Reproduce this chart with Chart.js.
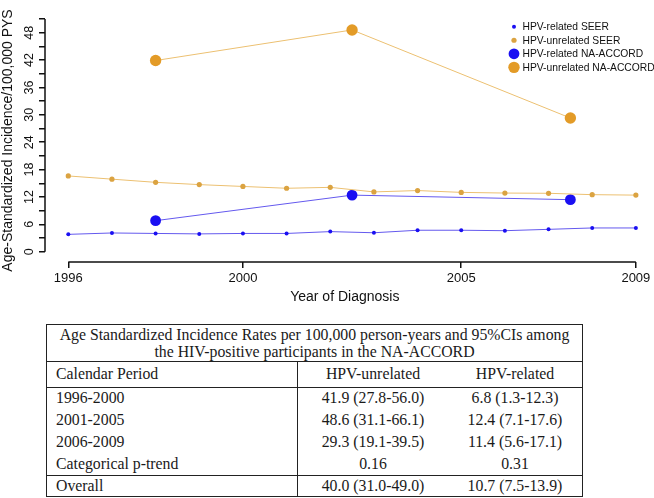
<!DOCTYPE html>
<html>
<head>
<meta charset="utf-8">
<script src="https://cdn.jsdelivr.net/npm/chart.js@4.4.1/dist/chart.umd.min.js"></script>
<style>
  body { margin: 0; background: #fff; }
  #wrap { position: relative; width: 654px; height: 498px; overflow: hidden; }
  #chart { position: absolute; left: 0; top: 0; }
  table {
    position: absolute; left: 46px; top: 324px; width: 537px;
    border-collapse: collapse; font-family: "Liberation Serif", serif;
    font-size: 15.8px; color: #1a1a1a; border: 1px solid #222;
  }
  td { padding: 0; border: none; line-height: 18px; }
  .hdr td { text-align: center; line-height: 17px; height: 36px; border-bottom: 1px solid #222; }
  .c1 { padding-left: 9px; width: 241px; border-right: 1px solid #222; }
  .c2 { text-align: center; width: 150px; }
  .c3 { text-align: center; }
  .lab td { height: 24.5px; border-bottom: 1px solid #222; }
  .row td { height: 21.9px; }
  .last td { height: 19.5px; border-top: 1px solid #222; }
</style>
</head>
<body>
<div id="wrap">
  <canvas id="chart" width="654" height="310"></canvas>
  <table>
    <tr class="hdr"><td colspan="3">Age Standardized Incidence Rates per 100,000 person-years and 95%CIs among<br>the HIV-positive participants in the NA-ACCORD</td></tr>
    <tr class="lab"><td class="c1">Calendar Period</td><td class="c2">HPV-unrelated</td><td class="c3">HPV-related</td></tr>
    <tr class="row"><td class="c1">1996-2000</td><td class="c2">41.9 (27.8-56.0)</td><td class="c3">6.8 (1.3-12.3)</td></tr>
    <tr class="row"><td class="c1">2001-2005</td><td class="c2">48.6 (31.1-66.1)</td><td class="c3">12.4 (7.1-17.6)</td></tr>
    <tr class="row"><td class="c1">2006-2009</td><td class="c2">29.3 (19.1-39.5)</td><td class="c3">11.4 (5.6-17.1)</td></tr>
    <tr class="row"><td class="c1">Categorical p-trend</td><td class="c2">0.16</td><td class="c3">0.31</td></tr>
    <tr class="last"><td class="c1">Overall</td><td class="c2">40.0 (31.0-49.0)</td><td class="c3">10.7 (7.5-13.9)</td></tr>
  </table>
</div>
<script>
// valores
const seerYears = [1996, 1997, 1998, 1999, 2000, 2001, 2002, 2003, 2004, 2005, 2006, 2007, 2008, 2009];
const seerRelated = [3.8, 4.1, 4.0, 3.9, 4.0, 4.0, 4.4, 4.15, 4.7, 4.7, 4.6, 4.9, 5.2, 5.2];
const seerUnrelated = [16.6, 15.9, 15.2, 14.7, 14.3, 13.9, 14.1, 13.1, 13.4, 13.0, 12.85, 12.8, 12.5, 12.4];
const accordYears = [1998, 2002.5, 2007.5];
const accordRelated = [6.8, 12.4, 11.4];
const accordUnrelated = [41.9, 48.6, 29.3];
const xTicks = [1996, 2000, 2005, 2009];
const yTicks = [0, 3, 6, 9, 12, 15, 18, 21, 24, 27, 30, 33, 36, 39, 42, 45, 48, 51];
const yLabels = [0, 6, 12, 18, 24, 30, 36, 42, 48];

const BLUE = '#1a0ff2';
const BLUE_LINE = '#6459ee';
const ORANGE = '#e39b27';
const ORANGE_SEER = '#dba341';
const ORANGE_LINE = '#ecc071';
const FONT = '"Liberation Sans", Arial, sans-serif';

function toXY(xs, ys) {
    return xs.map((x, i) => ({ x: x, y: ys[i] }));
}

// ejes estilo R: linea solo entre el primer y el ultimo tick
const axisLines = {
    id: 'axisLines',
    afterDraw(chart) {
        const ctx = chart.ctx;
        const x = chart.scales.x, y = chart.scales.y;
        const area = chart.chartArea;
        ctx.save();
        ctx.strokeStyle = '#111';
        ctx.lineWidth = 1.5;
        ctx.beginPath();
        ctx.moveTo(area.left, y.getPixelForValue(yTicks[0]));
        ctx.lineTo(area.left, y.getPixelForValue(yTicks[yTicks.length - 1]));
        ctx.moveTo(x.getPixelForValue(xTicks[0]), area.bottom);
        ctx.lineTo(x.getPixelForValue(xTicks[xTicks.length - 1]), area.bottom);
        ctx.stroke();
        ctx.restore();
    }
};

// leyenda dentro del area del grafico
const legendBox = {
    id: 'legendBox',
    afterDraw(chart) {
        const ctx = chart.ctx;
        const left = 514, top = 26.7, step = 13.55;
        ctx.save();
        ctx.font = '10.3px ' + FONT;
        ctx.textBaseline = 'middle';
        chart.data.datasets.forEach((ds, i) => {
            const cy = top + i * step;
            ctx.beginPath();
            ctx.fillStyle = ds.pointBackgroundColor;
            ctx.arc(left, cy, ds.pointRadius, 0, Math.PI * 2);
            ctx.fill();
            ctx.fillStyle = '#111';
            ctx.fillText(ds.label, left + 8.5, cy + 0.5);
        });
        ctx.restore();
    }
};

const ctx = document.getElementById('chart').getContext('2d');
new Chart(ctx, {
    type: 'line',
    data: {
        datasets: [
            {
                label: 'HPV-related SEER',
                data: toXY(seerYears, seerRelated),
                borderColor: BLUE_LINE, borderWidth: 1,
                pointBackgroundColor: BLUE, pointBorderWidth: 0, pointRadius: 2
            },
            {
                label: 'HPV-unrelated SEER',
                data: toXY(seerYears, seerUnrelated),
                borderColor: ORANGE_LINE, borderWidth: 1,
                pointBackgroundColor: ORANGE_SEER, pointBorderWidth: 0, pointRadius: 2.6
            },
            {
                label: 'HPV-related NA-ACCORD',
                data: toXY(accordYears, accordRelated),
                borderColor: BLUE_LINE, borderWidth: 1,
                pointBackgroundColor: BLUE, pointBorderWidth: 0, pointRadius: 5.4
            },
            {
                label: 'HPV-unrelated NA-ACCORD',
                data: toXY(accordYears, accordUnrelated),
                borderColor: ORANGE_LINE, borderWidth: 1,
                pointBackgroundColor: ORANGE, pointBorderWidth: 0, pointRadius: 5.7
            }
        ]
    },
    options: {
        responsive: false,
        animation: false,
        layout: { padding: { top: 19, right: 9.4, left: 0, bottom: 0 } },
        plugins: { legend: { display: false }, tooltip: { enabled: false } },
        scales: {
            x: {
                type: 'linear',
                min: 1995.4665,
                max: 2009.2,
                afterBuildTicks(scale) { scale.ticks = xTicks.map(v => ({ value: v })); },
                afterFit(scale) { scale.height = 48; },
                grid: { drawOnChartArea: false, drawTicks: true, tickLength: 6, color: '#111', lineWidth: 1.5 },
                border: { display: false },
                ticks: {
                    autoSkip: false, maxRotation: 0, padding: 3, color: '#111',
                    font: { family: FONT, size: 13 },
                    callback: v => String(v)
                },
                title: {
                    display: true, text: 'Year of Diagnosis', color: '#111',
                    font: { family: FONT, size: 14 }, padding: { top: 0, bottom: 4 }
                }
            },
            y: {
                type: 'linear',
                min: -2.26,
                max: 51,
                afterBuildTicks(scale) { scale.ticks = yTicks.map(v => ({ value: v })); },
                afterFit(scale) { scale.width = 45; },
                grid: { drawOnChartArea: false, drawTicks: true, tickLength: 6, color: '#111', lineWidth: 1.5 },
                border: { display: false },
                ticks: {
                    autoSkip: false, minRotation: 90, maxRotation: 90, crossAlign: 'center',
                    padding: 3, color: '#111',
                    font: { family: FONT, size: 12.5 },
                    callback: v => (yLabels.includes(v) ? String(v) : '')
                },
                title: {
                    display: true, text: 'Age-Standardized Incidence/100,000 PYS', color: '#111',
                    font: { family: FONT, size: 14 }, padding: { top: 0, bottom: 0 }
                }
            }
        }
    },
    plugins: [axisLines, legendBox]
});
</script>
</body>
</html>
